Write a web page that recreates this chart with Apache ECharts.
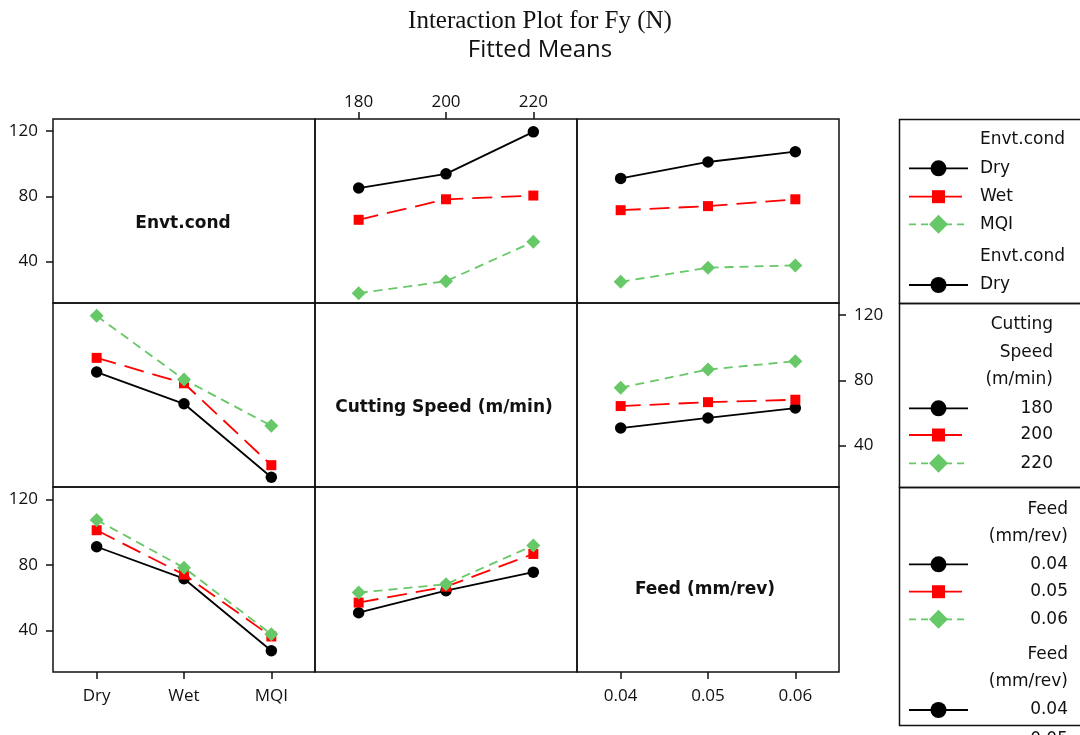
<!DOCTYPE html>
<html>
<head>
<meta charset="utf-8">
<script src="https://cdn.jsdelivr.net/npm/echarts@6/dist/echarts.min.js"></script>
<style>
  html, body { margin: 0; padding: 0; background: #ffffff; }
  #chart { width: 1080px; height: 735px; }
</style>
</head>
<body>
<div id="chart"></div>
<script>
// Factor levels
const envLevels = ['Dry', 'Wet', 'MQI'];
const speedLevels = ['180', '200', '220'];
const feedLevels = ['0.04', '0.05', '0.06'];
const factorNames = ['Envt.cond', 'Cutting Speed (m/min)', 'Feed (mm/rev)'];
const yTicks = [40, 80, 120];

// Fitted means of Fy (N) for each pair of factors
// rows: Dry, Wet, MQI   cols: 180, 200, 220
const fyEnvSpeed = [
  [85.1, 93.8, 119.6],
  [65.6, 78.2, 80.5],
  [20.5, 27.9, 52.1]
];
// rows: Dry, Wet, MQI   cols: 0.04, 0.05, 0.06
const fyEnvFeed = [
  [91.0, 101.1, 107.4],
  [71.5, 74.0, 78.2],
  [27.5, 36.2, 37.6]
];
// rows: 180, 200, 220   cols: 0.04, 0.05, 0.06
const fySpeedFeed = [
  [50.7, 56.9, 63.0],
  [64.2, 66.6, 68.1],
  [75.5, 86.6, 91.8]
];

const levels = [envLevels, speedLevels, feedLevels];
const pairTables = { '0-1': fyEnvSpeed, '0-2': fyEnvFeed, '1-2': fySpeedFeed };

function fy(fa, ia, fb, ib) {
  if (fa < fb) return pairTables[fa + '-' + fb][ia][ib];
  return pairTables[fb + '-' + fa][ib][ia];
}

// Panel layout
const colLeft = [53, 315, 577];
const colWidth = 262;
const rowTop = [119, 303, 487];
const rowHeight = [184, 184, 185];
const Y_MIN = 14.5, Y_MAX = 127.5;

const INK = '#111111';
const levelStyles = [
  { color: '#000000', symbol: 'circle', size: 11.5, dash: 'solid', lsize: 16 },
  { color: '#ff0000', symbol: 'rect', size: 10, dash: [20, 9], lsize: 13 },
  { color: '#66c866', symbol: 'diamond', size: 14, dash: [9, 6], lsize: 19 }
];

const tickFont = { fontFamily: 'Open Sans', fontSize: 17, color: INK };

const grids = [], xAxes = [], yAxes = [], series = [];

for (let r = 0; r < 3; r++) {
  for (let c = 0; c < 3; c++) {
    const idx = grids.length;
    grids.push({
      left: colLeft[c], top: rowTop[r], width: colWidth, height: rowHeight[r],
      show: true, borderColor: INK, borderWidth: 1.5, containLabel: false
    });

    // x axis: labels at top for the speed column in the top row,
    // at bottom for the bottom row's first and last panels
    let xPos = 'bottom', xShow = false, xMargin = 16;
    if (r === 0 && c === 1) { xPos = 'top'; xShow = true; xMargin = 8; }
    if (r === 2 && (c === 0 || c === 2)) { xShow = true; }
    xAxes.push({
      type: 'category', gridIndex: idx, data: levels[c], position: xPos,
      boundaryGap: true,
      axisLine: { show: false },
      axisTick: { show: xShow, alignWithLabel: true, length: 7, inside: false,
                  lineStyle: { color: INK, width: 1.5 } },
      axisLabel: Object.assign({ show: xShow, interval: 0, margin: xMargin }, tickFont),
      splitLine: { show: false }
    });

    // y axis: left on the first column of rows 0 and 2, right on the middle row
    let yPos = 'left', yShow = false;
    if (c === 0 && (r === 0 || r === 2)) { yShow = true; }
    if (r === 1 && c === 2) { yPos = 'right'; yShow = true; }
    yAxes.push({
      type: 'value', gridIndex: idx, min: Y_MIN, max: Y_MAX, position: yPos,
      axisLine: { show: false },
      axisTick: { show: yShow, customValues: yTicks, length: 7, inside: false,
                  lineStyle: { color: INK, width: 1.5 } },
      axisLabel: Object.assign({ show: yShow, customValues: yTicks, margin: 15 }, tickFont),
      splitLine: { show: false }
    });

    if (r === c) continue;
    // lines: one per level of the row factor, plotted against the column factor
    for (let i = 0; i < 3; i++) {
      const st = levelStyles[i];
      series.push({
        type: 'line', xAxisIndex: idx, yAxisIndex: idx,
        data: levels[c].map((_, j) => fy(r, i, c, j)),
        symbol: st.symbol, symbolSize: st.size, showSymbol: true,
        itemStyle: { color: st.color, borderWidth: 0 },
        lineStyle: { color: st.color, width: 1.8, type: st.dash },
        silent: true, animation: false, z: 2 + i
      });
    }
  }
}

// Texts and legend boxes
const graphics = [];
graphics.push({ type: 'text', x: 540, y: 21, style: { text: 'Interaction Plot for Fy (N)',
  font: '25px "Liberation Serif"', fill: INK, textAlign: 'center', textVerticalAlign: 'middle' } });
graphics.push({ type: 'text', x: 540, y: 50, style: { text: 'Fitted Means',
  font: '24px "Open Sans"', fill: INK, textAlign: 'center', textVerticalAlign: 'middle' } });

// factor names in the diagonal panels
const diagPos = [[183, 224], [444, 408], [705, 590]];
factorNames.forEach((name, k) => {
  graphics.push({ type: 'text', x: diagPos[k][0], y: diagPos[k][1], style: { text: name,
    font: 'bold 17px "DejaVu Sans"', fill: INK, textAlign: 'center', textVerticalAlign: 'middle' } });
});

// legend frames
const boxX = 899.5;
[[119.5, 184], [303.5, 184], [487.5, 238]].forEach(b => {
  graphics.push({ type: 'rect', shape: { x: boxX, y: b[0], width: 220, height: b[1] },
    style: { fill: 'none', stroke: INK, lineWidth: 1.5 }, silent: true });
});

const legFont = '17px "DejaVu Sans"';
function legText(str, x, y, align) {
  graphics.push({ type: 'text', x: x, y: y, style: { text: str, font: legFont, fill: INK,
    textAlign: align, textVerticalAlign: 'middle' } });
}
function legKey(k, y) {
  const st = levelStyles[k];
  const cx = 938.5, s = st.lsize;
  if (k === 1) {
    graphics.push({ type: 'line', shape: { x1: 909, y1: y, x2: 962, y2: y },
      style: { stroke: st.color, lineWidth: 1.8 } });
  } else {
    graphics.push({ type: 'line', shape: { x1: 909, y1: y, x2: 968, y2: y },
      style: { stroke: st.color, lineWidth: 1.8, lineDash: k === 2 ? [7, 5] : null } });
  }
  if (st.symbol === 'circle') {
    graphics.push({ type: 'circle', shape: { cx: cx, cy: y, r: s / 2 }, style: { fill: st.color } });
  } else if (st.symbol === 'rect') {
    graphics.push({ type: 'rect', shape: { x: cx - s / 2, y: y - s / 2, width: s, height: s }, style: { fill: st.color } });
  } else {
    graphics.push({ type: 'polygon', shape: { points: [[cx, y - s / 2], [cx + s / 2, y], [cx, y + s / 2], [cx - s / 2, y]] },
      style: { fill: st.color } });
  }
}

// Envt.cond legend (left-aligned text)
legText(factorNames[0], 980, 140, 'left');
envLevels.forEach((lv, k) => { legKey(k, [168.3, 196.7, 224.3][k]); legText(lv, 980, [168.3, 196.7, 224.3][k], 'left'); });
legText(factorNames[0], 980, 256.7, 'left');
legKey(0, 285); legText(envLevels[0], 980, 285, 'left');

// Cutting speed legend (right-aligned text)
['Cutting', 'Speed', '(m/min)'].forEach((t, i) => legText(t, 1053, [325, 352.7, 380][i], 'right'));
speedLevels.forEach((lv, k) => { const y = [408.3, 435, 463.3][k]; legKey(k, y); legText(lv, 1053, y, 'right'); });

// Feed legend (right-aligned text)
['Feed', '(mm/rev)'].forEach((t, i) => legText(t, 1068, [509.3, 536.7][i], 'right'));
feedLevels.forEach((lv, k) => { const y = [564.3, 591.7, 619.3][k]; legKey(k, y); legText(lv, 1068, y, 'right'); });
['Feed', '(mm/rev)'].forEach((t, i) => legText(t, 1068, [655, 681.7][i], 'right'));
legKey(0, 710); legText(feedLevels[0], 1068, 710, 'right');
legText(feedLevels[1], 1068, 740, 'right');

const chart = echarts.init(document.getElementById('chart'), null, { renderer: 'canvas' });
chart.setOption({
  animation: false,
  backgroundColor: '#ffffff',
  grid: grids,
  xAxis: xAxes,
  yAxis: yAxes,
  series: series,
  graphic: graphics
});
</script>
</body>
</html>
